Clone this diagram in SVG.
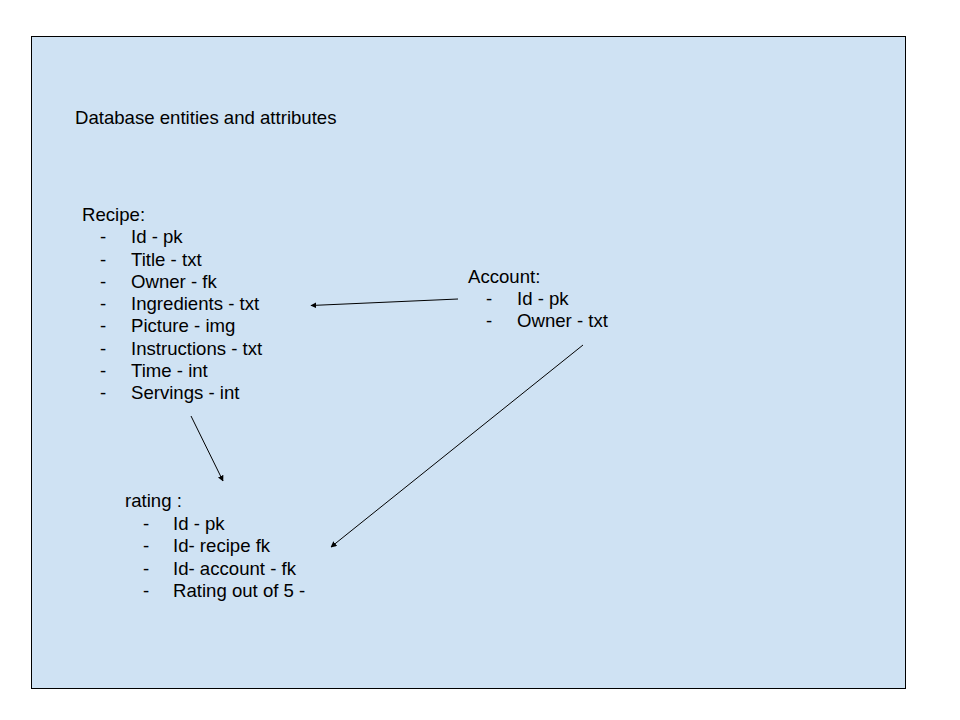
<svg xmlns="http://www.w3.org/2000/svg" width="960" height="720" viewBox="0 0 960 720">
<style>
text{font-family:"Liberation Sans",Arial,sans-serif;font-size:18.6px;fill:#000}
.c line{stroke:#000;stroke-width:1;fill:none}
</style>
<defs>
<marker id="ah" viewBox="0 0 10 10" refX="9" refY="5" markerWidth="6" markerHeight="6" markerUnits="userSpaceOnUse" orient="auto">
<path d="M0,0 L10,5 L0,10 z" fill="#000"/>
</marker>
</defs>
<rect x="0" y="0" width="960" height="720" fill="#fff"/>
<rect id="frame" x="31.5" y="36.5" width="874" height="652" fill="#cfe2f3" stroke="#000" stroke-width="1"/>
<g id="title"><text x="75" y="124">Database entities and attributes</text></g>
<g id="recipe">
<text x="82" y="221">Recipe:</text>
<g>
<text x="100" y="243">-</text><text x="131" y="243">Id - pk</text>
<text x="100" y="266">-</text><text x="131" y="266">Title - txt</text>
<text x="100" y="288">-</text><text x="131" y="288">Owner - fk</text>
<text x="100" y="310">-</text><text x="131" y="310">Ingredients - txt</text>
<text x="100" y="332">-</text><text x="131" y="332">Picture - img</text>
<text x="100" y="355">-</text><text x="131" y="355">Instructions - txt</text>
<text x="100" y="377">-</text><text x="131" y="377">Time - int</text>
<text x="100" y="399">-</text><text x="131" y="399">Servings - int</text>
</g>
</g>
<g id="account">
<text x="468" y="283">Account:</text>
<text x="486" y="305">-</text><text x="517" y="305">Id - pk</text>
<text x="486" y="327">-</text><text x="517" y="327">Owner - txt</text>
</g>
<g id="rating">
<text x="125" y="507">rating :</text>
<text x="143" y="530">-</text><text x="173" y="530">Id - pk</text>
<text x="143" y="552">-</text><text x="173" y="552">Id- recipe fk</text>
<text x="143" y="575">-</text><text x="173" y="575">Id- account - fk</text>
<text x="143" y="597">-</text><text x="173" y="597">Rating out of 5 -</text>
</g>
<g id="connectors" class="c">
<line x1="458" y1="299" x2="311" y2="305.5" marker-end="url(#ah)"/>
<line x1="583" y1="345" x2="331" y2="547" marker-end="url(#ah)"/>
<line x1="191" y1="416" x2="223" y2="481" marker-end="url(#ah)"/>
</g>
</svg>
